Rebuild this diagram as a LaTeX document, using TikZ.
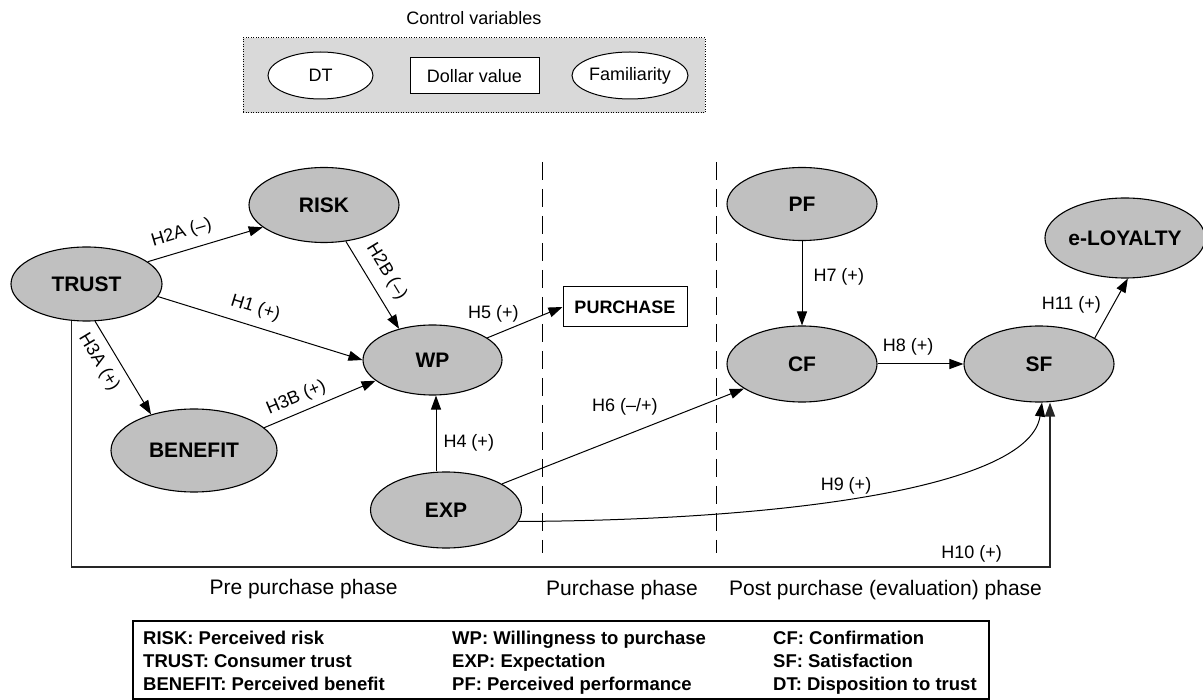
\documentclass[tikz,border=0pt]{standalone}
\usepackage{fontspec}
\setmainfont{Liberation Sans}
\usetikzlibrary{shapes.geometric,arrows.meta,calc}
\definecolor{ellgray}{RGB}{192,192,192}
\definecolor{boxgray}{RGB}{217,217,217}
\begin{document}
\begin{tikzpicture}[x=1pt,y=-1pt,
  cons/.style={ellipse,draw,line width=1.1pt,fill=ellgray,inner sep=0pt,font=\fontsize{21}{24}\selectfont\bfseries},
  ctrl/.style={ellipse,draw,line width=1pt,fill=white,inner sep=0pt,font=\fontsize{18}{21}\selectfont},
  ctrlbox/.style={rectangle,draw,line width=1pt,fill=white,inner sep=0pt,font=\fontsize{18}{21}\selectfont},
  purch/.style={rectangle,draw,line width=1pt,fill=white,inner sep=0pt,font=\fontsize{18}{21}\selectfont\bfseries},
  arr/.style={line width=1pt,-{Triangle[length=14pt,width=10pt]}},
  lbl/.style={font=\fontsize{18}{21}\selectfont,inner sep=1pt},
  phase/.style={font=\fontsize{21}{24}\selectfont,inner sep=0pt},
  leg/.style={font=\fontsize{18.5}{22}\selectfont\bfseries,anchor=base west,inner sep=0pt},
  sepline/.style={line width=1pt,dash pattern=on 18pt off 9pt},
  frame/.style={line width=1.6pt,draw=black!85}]
\useasboundingbox (0,0) rectangle (1203,700);

% control variables
\node[font=\fontsize{18}{21}\selectfont] (ctitle) at (474,18) {Control variables};
\node[draw,line width=1pt,dash pattern=on 1pt off 1.5pt,fill=boxgray,minimum width=462pt,minimum height=75pt,inner sep=0pt] (cbox) at (474,75.5) {};
\node[ctrl,minimum width=105pt,minimum height=47pt] (DT) at (320.5,75.5) {DT};
\node[ctrlbox,minimum width=129pt,minimum height=36pt] (DV) at (474.5,76) {Dollar value};
\node[ctrl,minimum width=116pt,minimum height=47pt] (FAM) at (630,75.5) {Familiarity};

% phase separators
\coordinate (s1t) at (542,162); \coordinate (s1b) at (542,553);
\coordinate (s2t) at (716,162); \coordinate (s2b) at (716,553);
\draw[sepline] (s1t) -- (s1b);
\draw[sepline] (s2t) -- (s2b);

% constructs
\node[cons,minimum width=151pt,minimum height=74pt] (TRUST) at (86.5,284) {TRUST};
\node[cons,minimum width=150pt,minimum height=75pt] (RISK) at (324,205) {RISK};
\node[cons,minimum width=166pt,minimum height=83pt] (BEN) at (194,450.5) {BENEFIT};
\node[cons,minimum width=139pt,minimum height=70pt] (WP) at (432.5,360) {WP};
\node[cons,minimum width=151pt,minimum height=76pt] (EXP) at (446,510) {EXP};
\node[purch,minimum width=124pt,minimum height=40pt] (PUR) at (625,307) {PURCHASE};
\node[cons,minimum width=150pt,minimum height=73pt] (PF) at (802,204) {PF};
\node[cons,minimum width=150pt,minimum height=76pt] (CF) at (802,364) {CF};
\node[cons,minimum width=150pt,minimum height=76pt] (SF) at (1039,364) {SF};
\node[cons,minimum width=156pt,minimum height=80pt] (LOY) at (1125,238) {e-LOYALTY};

% hypotheses
\draw[arr] (TRUST.20) -- (RISK.200) node[lbl,pos=0.34,sloped,above=8pt] {H2A (–)};
\draw[arr] (TRUST.-10) -- (WP.west) node[lbl,pos=0.45,sloped,above=8pt] {H1 (+)};
\draw[arr] (RISK.-59) -- (WP.137) node[lbl,pos=0.46,sloped,above=9pt] {H2B (–)};
\draw[arr] (TRUST.-77) -- (BEN.140) node[lbl,pos=0.34,sloped,below=8pt] {H3A (+)};
\draw[arr] (BEN.18) -- (WP.-160) node[lbl,pos=0.34,sloped,above=5pt] {H3B (+)};
\draw[arr] ([xshift=-10pt]EXP.north) -- ([xshift=3.5pt]WP.south) node[lbl,pos=0.38,right=6pt] {H4 (+)};
\draw[arr] (WP.22) -- (PUR.west) node[lbl,pos=0.08,above=12pt] {H5 (+)};
\draw[arr] (EXP.25) -- (CF.-157) node[lbl,pos=0.508,above=18.5pt] {H6 (–/+)};
\draw[arr] (PF.south) -- (CF.north) node[lbl,pos=0.43,right=10pt] {H7 (+)};
\draw[arr] (CF.east) -- (SF.west) node[lbl,pos=0.356,above=7.5pt] {H8 (+)};
\draw[arr] (EXP.-9) .. controls (800,520) and (1030,485) .. ([xshift=3pt]SF.south) node[lbl,pos=0.44,above=3pt] {H9 (+)};
\coordinate (c2) at (1050,567);
\draw[arr,frame] (TRUST.-112) -- (TRUST.-112 |- c2) -- node[lbl,pos=0.92,above=2.5pt] {H10 (+)} (c2) -- ([xshift=11pt]SF.south);
\draw[arr] (SF.25) -- (LOY.-86) node[lbl,pos=0.55,left=10.5pt] {H11 (+)};

% phases
\node[phase] (ph1) at (303.5,589) {Pre purchase phase};
\node[phase] (ph2) at (622,590) {Purchase phase};
\node[phase] (ph3) at (885.5,590) {Post purchase (evaluation) phase};

% legend
\node[draw,line width=1.2pt,minimum width=856pt,minimum height=78pt,inner sep=0pt] (legbox) at (561,660) {};
\node[leg] (l1) at (143,644) {RISK: Perceived risk};
\node[leg] (l2) at (143,667) {TRUST: Consumer trust};
\node[leg] (l3) at (143,690) {BENEFIT: Perceived benefit};
\node[leg] (l4) at (452,644) {WP: Willingness to purchase};
\node[leg] (l5) at (452,667) {EXP: Expectation};
\node[leg] (l6) at (452,690) {PF: Perceived performance};
\node[leg] (l7) at (773,644) {CF: Confirmation};
\node[leg] (l8) at (773,667) {SF: Satisfaction};
\node[leg] (l9) at (773,690) {DT: Disposition to trust};
\end{tikzpicture}
\end{document}
